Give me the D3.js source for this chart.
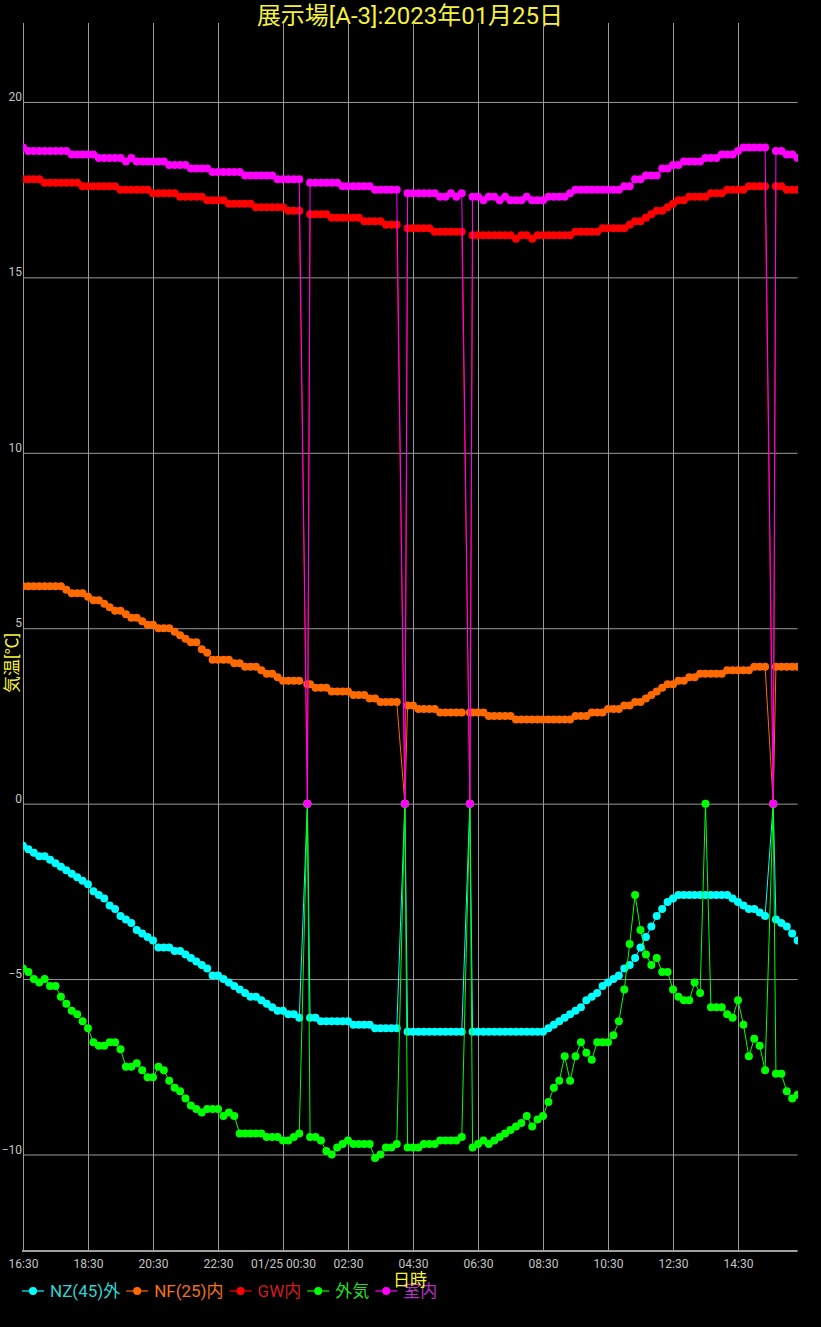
<!DOCTYPE html>
<html><head><meta charset="utf-8">
<script src="https://cdn.jsdelivr.net/npm/d3@7"></script>
<style>html,body{margin:0;padding:0;background:#000;} svg{display:block;}</style>
</head><body>
<svg id="chart" width="821" height="1327"></svg>
<script>
// ---------------- data ----------------
const titleText = "展示場[A-3]:2023年01月25日";
const xTitle = "日時";
const yTitle = "気温[℃]";
const seriesNames = ["NZ(45)外", "NF(25)内", "GW内", "外気", "室内"];

const times = ("16:30 16:40 16:50 17:00 17:10 17:20 17:30 17:40 17:50 18:00 18:10 18:20 18:30 18:40 18:50 " +
  "19:00 19:10 19:20 19:30 19:40 19:50 20:00 20:10 20:20 20:30 20:40 20:50 21:00 21:10 21:20 21:30 21:40 21:50 " +
  "22:00 22:10 22:20 22:30 22:40 22:50 23:00 23:10 23:20 23:30 23:40 23:50 00:00 00:10 00:20 00:30 00:40 00:50 " +
  "01:00 01:15 01:20 01:30 01:40 01:50 02:00 02:10 02:20 02:30 02:40 02:50 03:00 03:10 03:20 03:30 03:40 03:50 " +
  "04:00 04:15 04:20 04:30 04:40 04:50 05:00 05:10 05:20 05:30 05:40 05:50 06:00 06:15 06:20 06:30 06:40 06:50 " +
  "07:00 07:10 07:20 07:30 07:40 07:50 08:00 08:10 08:20 08:30 08:40 08:50 09:00 09:10 09:20 09:30 09:40 09:50 " +
  "10:00 10:10 10:20 10:30 10:40 10:50 11:00 11:10 11:20 11:30 11:40 11:50 12:00 12:10 12:20 12:30 12:40 12:50 " +
  "13:00 13:10 13:20 13:30 13:40 13:50 14:00 14:10 14:20 14:30 14:40 14:50 15:00 15:10 15:20 15:35 15:40 15:50 " +
  "16:00 16:10 16:20").split(" ");

const nz = [-1.2,-1.3,-1.4,-1.5,-1.5,-1.6,-1.7,-1.8,-1.9,-2.0,
  -2.1,-2.2,-2.3,-2.5,-2.6,-2.7,-2.9,-3.0,-3.2,-3.3,
  -3.4,-3.6,-3.7,-3.8,-3.9,-4.1,-4.1,-4.1,-4.2,-4.2,
  -4.3,-4.4,-4.5,-4.6,-4.7,-4.9,-4.9,-5.0,-5.1,-5.2,
  -5.3,-5.4,-5.5,-5.5,-5.6,-5.7,-5.8,-5.9,-5.9,-6.0,
  -6.0,-6.1,0,-6.1,-6.1,-6.2,-6.2,-6.2,-6.2,-6.2,
  -6.2,-6.3,-6.3,-6.3,-6.3,-6.4,-6.4,-6.4,-6.4,-6.4,
  0,-6.5,-6.5,-6.5,-6.5,-6.5,-6.5,-6.5,-6.5,-6.5,
  -6.5,-6.5,0,-6.5,-6.5,-6.5,-6.5,-6.5,-6.5,-6.5,
  -6.5,-6.5,-6.5,-6.5,-6.5,-6.5,-6.5,-6.4,-6.3,-6.2,
  -6.1,-6.0,-5.9,-5.8,-5.6,-5.5,-5.4,-5.2,-5.1,-5.0,
  -4.9,-4.7,-4.6,-4.4,-4.1,-3.8,-3.5,-3.2,-3.0,-2.8,
  -2.7,-2.6,-2.6,-2.6,-2.6,-2.6,-2.6,-2.6,-2.6,-2.6,
  -2.6,-2.7,-2.8,-2.9,-3.0,-3.0,-3.1,-3.2,0,-3.3,
  -3.4,-3.5,-3.7,-3.9];

const nf = [6.2,6.2,6.2,6.2,6.2,6.2,6.2,6.2,6.1,6.0,
  6.0,6.0,5.9,5.8,5.8,5.7,5.6,5.5,5.5,5.4,
  5.3,5.3,5.2,5.1,5.1,5.0,5.0,5.0,4.9,4.8,
  4.7,4.6,4.6,4.4,4.3,4.1,4.1,4.1,4.1,4.0,
  4.0,3.9,3.9,3.9,3.8,3.7,3.7,3.6,3.5,3.5,
  3.5,3.5,3.4,3.4,3.3,3.3,3.3,3.2,3.2,3.2,
  3.2,3.1,3.1,3.1,3.0,3.0,2.9,2.9,2.9,2.9,
  0,2.8,2.8,2.7,2.7,2.7,2.7,2.6,2.6,2.6,
  2.6,2.6,2.6,2.6,2.6,2.6,2.5,2.5,2.5,2.5,
  2.5,2.4,2.4,2.4,2.4,2.4,2.4,2.4,2.4,2.4,
  2.4,2.4,2.5,2.5,2.5,2.6,2.6,2.6,2.7,2.7,
  2.7,2.8,2.8,2.9,2.9,3.0,3.1,3.2,3.3,3.4,
  3.4,3.5,3.5,3.6,3.6,3.7,3.7,3.7,3.7,3.7,
  3.8,3.8,3.8,3.8,3.8,3.9,3.9,3.9,0,3.9,
  3.9,3.9,3.9,3.9];

const gw = [17.8,17.8,17.8,17.8,17.7,17.7,17.7,17.7,17.7,17.7,
  17.7,17.6,17.6,17.6,17.6,17.6,17.6,17.6,17.5,17.5,
  17.5,17.5,17.5,17.5,17.4,17.4,17.4,17.4,17.4,17.3,
  17.3,17.3,17.3,17.3,17.2,17.2,17.2,17.2,17.1,17.1,
  17.1,17.1,17.1,17.0,17.0,17.0,17.0,17.0,17.0,16.9,
  16.9,16.9,0,16.8,16.8,16.8,16.8,16.7,16.7,16.7,
  16.7,16.7,16.7,16.6,16.6,16.6,16.6,16.5,16.5,16.5,
  0,16.4,16.4,16.4,16.4,16.4,16.3,16.3,16.3,16.3,
  16.3,16.3,0,16.2,16.2,16.2,16.2,16.2,16.2,16.2,
  16.2,16.1,16.2,16.2,16.1,16.2,16.2,16.2,16.2,16.2,
  16.2,16.2,16.3,16.3,16.3,16.3,16.3,16.4,16.4,16.4,
  16.4,16.4,16.5,16.6,16.6,16.7,16.8,16.9,16.9,17.0,
  17.1,17.2,17.2,17.3,17.3,17.3,17.3,17.4,17.4,17.4,
  17.5,17.5,17.5,17.5,17.6,17.6,17.6,17.6,0,17.6,
  17.6,17.5,17.5,17.5];

const outside = [-4.7,-4.8,-5.0,-5.1,-5.0,-5.2,-5.2,-5.5,-5.7,-5.9,
  -6.0,-6.2,-6.4,-6.8,-6.9,-6.9,-6.8,-6.8,-7.0,-7.5,
  -7.5,-7.4,-7.6,-7.8,-7.8,-7.5,-7.6,-7.9,-8.1,-8.2,
  -8.4,-8.6,-8.7,-8.8,-8.7,-8.7,-8.7,-8.9,-8.8,-8.9,
  -9.4,-9.4,-9.4,-9.4,-9.4,-9.5,-9.5,-9.5,-9.6,-9.6,
  -9.5,-9.4,0,-9.5,-9.5,-9.6,-9.9,-10.0,-9.8,-9.7,
  -9.6,-9.7,-9.7,-9.7,-9.7,-10.1,-10.0,-9.8,-9.8,-9.7,
  0,-9.8,-9.8,-9.8,-9.7,-9.7,-9.7,-9.6,-9.6,-9.6,
  -9.6,-9.5,0,-9.8,-9.7,-9.6,-9.7,-9.6,-9.5,-9.4,
  -9.3,-9.2,-9.1,-8.9,-9.2,-9.0,-8.9,-8.5,-8.1,-7.9,
  -7.2,-7.9,-7.2,-6.8,-7.1,-7.3,-6.8,-6.8,-6.8,-6.6,
  -6.2,-5.3,-4.0,-2.6,-3.6,-4.3,-4.6,-4.4,-4.8,-4.8,
  -5.3,-5.5,-5.6,-5.6,-5.1,-5.4,0,-5.8,-5.8,-5.8,
  -6.0,-6.1,-5.6,-6.3,-7.2,-6.7,-6.9,-7.6,0,-7.7,
  -7.7,-8.2,-8.4,-8.3];

const room = [18.7,18.6,18.6,18.6,18.6,18.6,18.6,18.6,18.6,18.5,
  18.5,18.5,18.5,18.5,18.4,18.4,18.4,18.4,18.4,18.3,
  18.4,18.3,18.3,18.3,18.3,18.3,18.3,18.2,18.2,18.2,
  18.2,18.1,18.1,18.1,18.1,18.0,18.0,18.0,18.0,18.0,
  18.0,17.9,17.9,17.9,17.9,17.9,17.9,17.8,17.8,17.8,
  17.8,17.8,0,17.7,17.7,17.7,17.7,17.7,17.7,17.6,
  17.6,17.6,17.6,17.6,17.6,17.5,17.5,17.5,17.5,17.5,
  0,17.4,17.4,17.4,17.4,17.4,17.4,17.3,17.3,17.4,
  17.3,17.4,0,17.3,17.3,17.2,17.3,17.3,17.2,17.3,
  17.2,17.2,17.2,17.3,17.2,17.2,17.2,17.3,17.3,17.3,
  17.3,17.4,17.5,17.5,17.5,17.5,17.5,17.5,17.5,17.5,
  17.5,17.6,17.6,17.8,17.8,17.9,17.9,17.9,18.1,18.1,
  18.2,18.2,18.3,18.3,18.3,18.3,18.4,18.4,18.4,18.5,
  18.5,18.5,18.6,18.7,18.7,18.7,18.7,18.7,0,18.6,
  18.6,18.5,18.5,18.4];

const yTicks = [-10, -5, 0, 5, 10, 15, 20];
const xTickTimes = ["16:30","18:30","20:30","22:30","00:30","02:30","04:30","06:30","08:30","10:30","12:30","14:30"];
const xTickLabels = ["16:30","18:30","20:30","22:30","01/25 00:30","02:30","04:30","06:30","08:30","10:30","12:30","14:30"];

// ---------------- styles ----------------
const seriesColors = ["#00ffff", "#ff6a00", "#ff0000", "#00ff00", "#ff00ff"];
const legendTextColors = ["#2fd2d2", "#f2701e", "#d41c1c", "#22dd22", "#b232c2"];
const FONT = "Roboto, 'Noto Sans CJK JP', sans-serif";

const W = 821, H = 1327;
const plot = { left: 23, right: 797.6, top: 23, bottom: 1251 };

function parseT(s) {
  const [h, m] = s.split(":").map(Number);
  const day = (h * 60 + m >= 16 * 60 + 30) ? 24 : 25;
  return new Date(2023, 0, day, h, m);
}
const dates = times.map(parseT);

const x = d3.scaleTime().domain([dates[0], dates[dates.length - 1]]).range([plot.left, plot.right]);
const y = d3.scaleLinear().domain([-12.75, 22.25]).range([plot.bottom, plot.top]);

const svg = d3.select("#chart");
svg.append("rect").attr("width", W).attr("height", H).attr("fill", "#000");

// title
svg.append("text").attr("x", 410).attr("y", 24).attr("text-anchor", "middle")
  .attr("font-family", FONT).attr("font-size", 24).attr("fill", "#f5f23c").text(titleText);

const tickDates = xTickTimes.map(parseT);

// vertical grid
const gx = svg.append("g").attr("transform", `translate(0,${plot.bottom})`)
  .call(d3.axisBottom(x).tickValues(tickDates).tickSize(-(plot.bottom - plot.top)).tickFormat(""));
gx.select(".domain").remove();
gx.selectAll("line").attr("stroke", "#9a9a9a").attr("stroke-width", 1);

// horizontal grid
const gy = svg.append("g").attr("transform", `translate(${plot.left},0)`)
  .call(d3.axisLeft(y).tickValues(yTicks).tickSize(-(plot.right - plot.left)).tickFormat(""));
gy.select(".domain").remove();
gy.selectAll("line").attr("stroke", "#9a9a9a").attr("stroke-width", 1);

// bottom axis line
svg.append("line").attr("x1", plot.left - 1).attr("x2", plot.right).attr("y1", plot.bottom).attr("y2", plot.bottom)
  .attr("stroke", "#a0a0a0").attr("stroke-width", 2);

// x tick labels
const xl = svg.append("g").attr("transform", `translate(0,${plot.bottom})`)
  .call(d3.axisBottom(x).tickValues(tickDates).tickSize(0).tickPadding(8).tickFormat((d, i) => xTickLabels[i]));
xl.select(".domain").remove();
xl.selectAll("text").attr("font-family", FONT).attr("font-size", 12).attr("fill", "#c4c4c4");

// y tick labels
const yl = svg.append("g").attr("transform", `translate(${plot.left - 1},0)`)
  .call(d3.axisLeft(y).tickValues(yTicks).tickSize(0).tickPadding(0));
yl.select(".domain").remove();
yl.selectAll("text").attr("font-family", FONT).attr("font-size", 12).attr("fill", "#c4c4c4")
  .attr("dy", "-1.5px");

// clip
svg.append("clipPath").attr("id", "clip").append("rect")
  .attr("x", plot.left).attr("y", plot.top).attr("width", plot.right - plot.left + 0.5).attr("height", plot.bottom - plot.top);

const seriesData = [nz, nf, gw, outside, room];
const line = d3.line().x(d => x(d.t)).y(d => y(d.v));
const plotG = svg.append("g").attr("clip-path", "url(#clip)");
seriesData.forEach((vals, k) => {
  const pts = vals.map((v, i) => ({ t: dates[i], v }));
  const g = plotG.append("g");
  g.append("path").datum(pts).attr("d", line).attr("fill", "none")
    .attr("stroke", seriesColors[k]).attr("stroke-width", 1);
  g.selectAll("circle").data(pts).join("circle")
    .attr("cx", d => x(d.t)).attr("cy", d => y(d.v)).attr("r", 4).attr("fill", seriesColors[k]);
});

// legend
const lg = svg.append("g");
let lx = 22;
const ly = 1291;
seriesNames.forEach((name, k) => {
  lg.append("line").attr("x1", lx).attr("x2", lx + 22).attr("y1", ly).attr("y2", ly)
    .attr("stroke", seriesColors[k]).attr("stroke-width", 1.2);
  lg.append("circle").attr("cx", lx + 11).attr("cy", ly).attr("r", 4).attr("fill", seriesColors[k]);
  const t = lg.append("text").attr("x", lx + 28).attr("y", 1297).attr("font-family", FONT)
    .attr("font-size", 17).attr("fill", legendTextColors[k]).text(name);
  lx = lx + 28 + t.node().getComputedTextLength() + 6;
});

// axis titles
svg.append("text").attr("x", 410).attr("y", 1286).attr("text-anchor", "middle")
  .attr("font-family", FONT).attr("font-size", 17).attr("fill", "#f5f23c").text(xTitle);
svg.append("text").attr("transform", "translate(18,663) rotate(-90)").attr("text-anchor", "middle")
  .attr("font-family", FONT).attr("font-size", 17).attr("fill", "#f5f23c").text(yTitle);
</script>
</body></html>
